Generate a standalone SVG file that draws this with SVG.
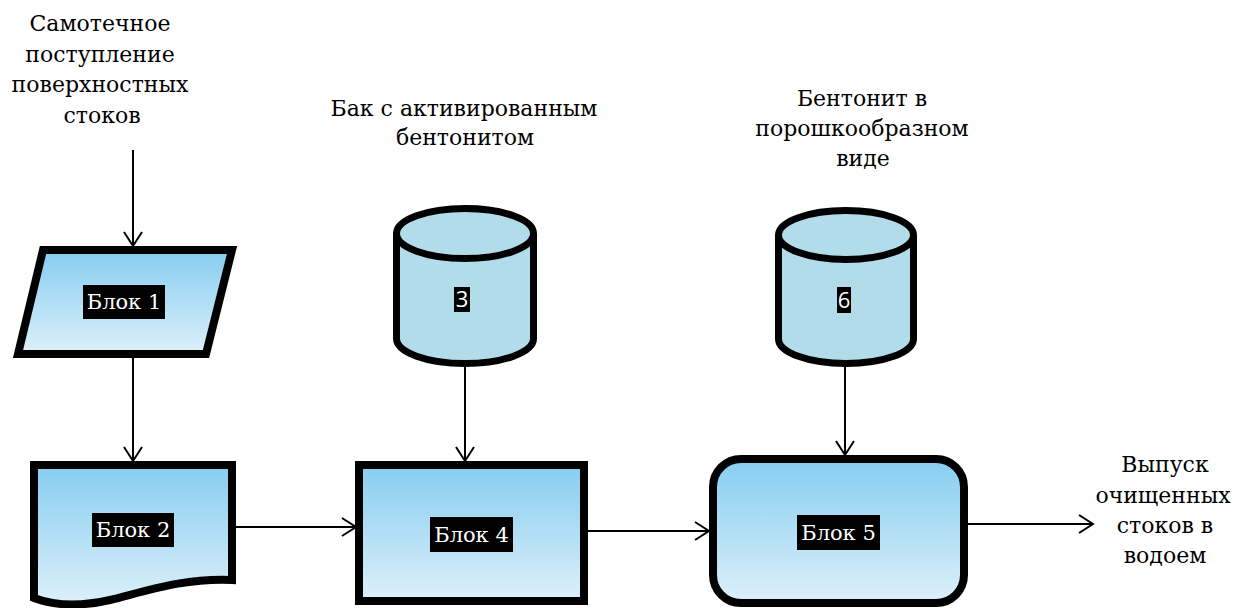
<svg xmlns="http://www.w3.org/2000/svg" width="1236" height="608" viewBox="0 0 1236 608">
<defs>
<linearGradient id="blueGrad" x1="0" y1="0" x2="0" y2="1">
<stop offset="0" stop-color="#86CDF0"/>
<stop offset="1" stop-color="#DDF0FA"/>
</linearGradient>
<marker id="arrow" markerUnits="userSpaceOnUse" markerWidth="20" markerHeight="22" refX="15" refY="10" orient="auto">
<path d="M1,1 L15,10 L1,19" fill="none" stroke="#000" stroke-width="2"/>
</marker>
</defs>
<style>
.blk{fill:url(#blueGrad);stroke:#000;stroke-width:8;stroke-linejoin:miter}
.cyl{fill:#B2DCEA;stroke:#000;stroke-width:7}
.lbl{font-family:'DejaVu Serif','Liberation Serif',serif;font-size:21px;fill:#fff;text-anchor:middle}
.num{font-family:'Open Sans','Liberation Sans',sans-serif;font-size:22px;fill:#fff;text-anchor:middle}
.cap{font-family:'DejaVu Serif','Liberation Serif',serif;font-size:22px;fill:#000;text-anchor:middle}
.conn{stroke:#000;stroke-width:2;fill:none;marker-end:url(#arrow)}
</style>
<rect width="1236" height="608" fill="#fff"/>

<g id="texts">
<text class="cap" x="100" y="31">Самотечное</text>
<text class="cap" x="100" y="61.5">поступление</text>
<text class="cap" x="100" y="92">поверхностных</text>
<text class="cap" x="102" y="122.5">стоков</text>
<text class="cap" x="464" y="116">Бак с активированным</text>
<text class="cap" x="465" y="145">бентонитом</text>
<text class="cap" x="862" y="106">Бентонит в</text>
<text class="cap" x="862" y="136">порошкообразном</text>
<text class="cap" x="863" y="166">виде</text>
<text class="cap" x="1165" y="472">Выпуск</text>
<text class="cap" x="1163" y="503">очищенных</text>
<text class="cap" x="1165" y="533">стоков в</text>
<text class="cap" x="1165" y="563">водоем</text>
</g>

<g id="connectors">
<line class="conn" x1="133" y1="150" x2="133" y2="246"/>
<line class="conn" x1="133" y1="358" x2="133" y2="461"/>
<line class="conn" x1="236" y1="527" x2="356" y2="527"/>
<line class="conn" x1="588" y1="531" x2="709" y2="531"/>
<line class="conn" x1="465" y1="367" x2="465" y2="461"/>
<line class="conn" x1="845" y1="367" x2="845" y2="455"/>
<line class="conn" x1="968" y1="524" x2="1093" y2="524"/>
</g>

<g id="block1">
<polygon class="blk" points="43,250 232,250 206,354 18,354"/>
<rect x="83" y="285" width="82" height="34" fill="#000"/>
<text class="lbl" x="124" y="309">Блок 1</text>
</g>

<g id="block2">
<path class="blk" d="M34,465 H232 V580 C185,578 150,590 110,600 C75,608 50,604 34,598 Z"/>
<rect x="92" y="513" width="82" height="34" fill="#000"/>
<text class="lbl" x="133" y="537">Блок 2</text>
</g>

<g id="cyl3">
<path class="cyl" d="M396.5,233.5 V338.5 A68.5,25 0 0 0 533.5,338.5 V233.5"/>
<ellipse class="cyl" cx="465" cy="233.5" rx="68.5" ry="25"/>
<rect x="454" y="287" width="16" height="25" fill="#000"/>
<text class="num" x="462" y="307">3</text>
</g>

<g id="cyl6">
<path class="cyl" d="M778.5,235 V339 A67.5,24.5 0 0 0 913.5,339 V235"/>
<ellipse class="cyl" cx="846" cy="235" rx="67.5" ry="24.5"/>
<rect x="837" y="287" width="14" height="26" fill="#000"/>
<text class="num" x="844" y="308">6</text>
</g>

<g id="block4">
<rect class="blk" x="359" y="465" width="225" height="136"/>
<rect x="430" y="517" width="83" height="35" fill="#000"/>
<text class="lbl" x="471.5" y="542">Блок 4</text>
</g>

<g id="block5">
<rect class="blk" x="713" y="459" width="251" height="144" rx="28" ry="28"/>
<rect x="797" y="515" width="83" height="35" fill="#000"/>
<text class="lbl" x="838.5" y="540">Блок 5</text>
</g>
</svg>
